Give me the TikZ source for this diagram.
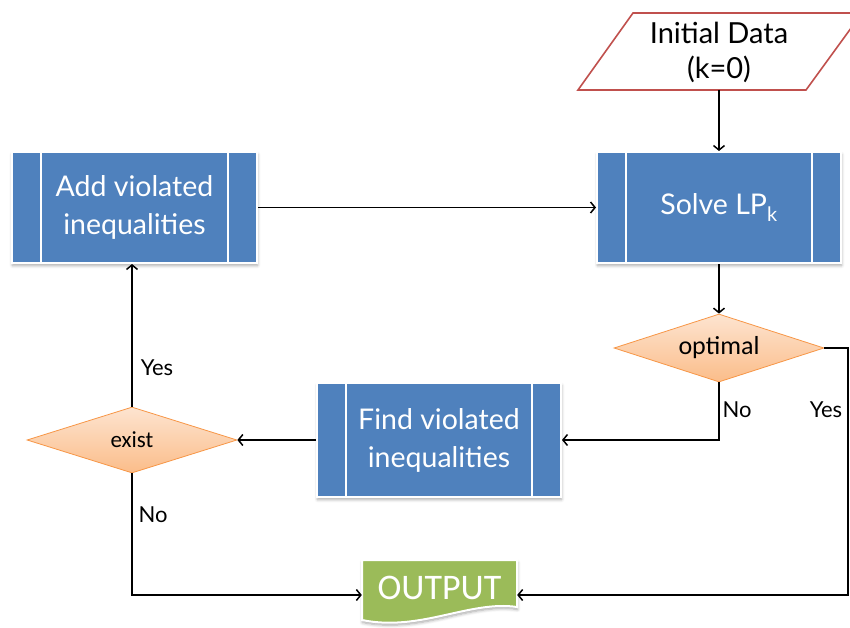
\documentclass[tikz,border=0pt]{standalone}
\usepackage{fontspec}
\setmainfont{Carlito}
\newfontfamily\handfont{Lato}
\usetikzlibrary{shapes.geometric,arrows.meta,shadows.blur,calc}

\definecolor{boxblue}{HTML}{4F81BD}
\definecolor{datared}{HTML}{C0504D}
\definecolor{outgreen}{HTML}{9BBB59}
\definecolor{decedge}{HTML}{F79646}
\definecolor{dectop}{HTML}{FDE4D0}
\definecolor{decbot}{HTML}{FBBD8A}

\tikzset{
  softshadow/.style={blur shadow={shadow xshift=0.5pt, shadow yshift=-2.5pt,
      shadow blur radius=3pt, shadow blur steps=6, shadow opacity=35}},
  procbox/.style={rectangle, fill=boxblue, draw=white, line width=2pt,
      text=white, align=center, inner sep=0pt,
      font=\handfont\fontsize{28.5}{38}\selectfont, softshadow},
  decision/.style={diamond, aspect=3, draw=decedge, line width=0.8pt,
      top color=dectop, bottom color=decbot, inner sep=0pt},
  flow/.style={line width=1.5pt,
      -{Straight Barb[length=4.5pt,width=11pt,line width=1.5pt]}},
  link/.style={line width=1.5pt},
  lbl/.style={font=\handfont\fontsize{22}{24}\selectfont}
}

\begin{document}
\begin{tikzpicture}[x=1pt, y=-1pt]
  \useasboundingbox (0,0) rectangle (850,628);

  % input data (parallelogram, runs past the right edge)
  \draw[datared, line width=1.6pt, fill=white]
    (633,13) -- (862,13) -- (806,90) -- (578,90) -- cycle;
  \node[font=\handfont\fontsize{29}{35}\selectfont, align=center]
    (init) at (719,52) {Initial Data\\(k=0)};
  \coordinate (initb) at (719,90);

  % process boxes
  \node[procbox, minimum width=245pt, minimum height=111pt]
    (add) at (134.5,207.5) {Add violated\\inequalities};
  \node[procbox, minimum width=244pt, minimum height=111pt]
    (solve) at (719,207.5) {Solve LP\textsubscript{k}};
  \node[procbox, minimum width=244pt, minimum height=114pt]
    (find) at (439,440) {Find violated\\inequalities};

  % side bars of the predefined-process boxes
  \foreach \b in {add,solve,find}{
    \draw[white, line width=2pt]
      ([xshift=30pt]\b.north west) -- ([xshift=30pt]\b.south west)
      ([xshift=-30pt]\b.north east) -- ([xshift=-30pt]\b.south east);
  }

  % decisions
  \node[decision, minimum width=210pt, minimum height=68pt,
        font=\fontsize{26}{28}\selectfont]
    (opt) at (719,348) {optimal};
  \node[decision, minimum width=210pt, minimum height=66pt,
        font=\fontsize{23}{26}\selectfont]
    (exist) at (132,440) {exist};

  % output document
  \fill[outgreen, draw=white, line width=2pt, softshadow]
    (362,560) -- (517,560) -- (517,607)
    .. controls (470,600) and (420,632) .. (362,620) -- cycle;
  \node[text=white, font=\fontsize{36}{40}\selectfont,
        minimum width=155pt, minimum height=40pt, inner sep=0pt]
    (out) at (439.5,588) {OUTPUT};

  % connectors
  \draw[flow] (initb) -- (solve.north);
  \draw[flow] (add.east) -- (solve.west);
  \draw[flow] (solve.south) -- (opt.north);
  \draw[flow] (opt.south) |- (find.east);
  \draw[flow] (opt.east) -- ++(23.5,0) |- ([yshift=-7pt]out.east);
  \draw[flow] (find.west) -- (exist.east);
  \draw[flow] (exist.north) -- (exist.north |- add.south);
  \draw[flow] (exist.south) |- ([yshift=-7pt]out.west);

  % branch labels
  \node[lbl] (l1) at (157,368) {Yes};
  \node[lbl] (l2) at (153,515) {No};
  \node[lbl] (l3) at (737,410) {No};
  \node[lbl] (l4) at (826,410) {Yes};
\end{tikzpicture}
\end{document}
